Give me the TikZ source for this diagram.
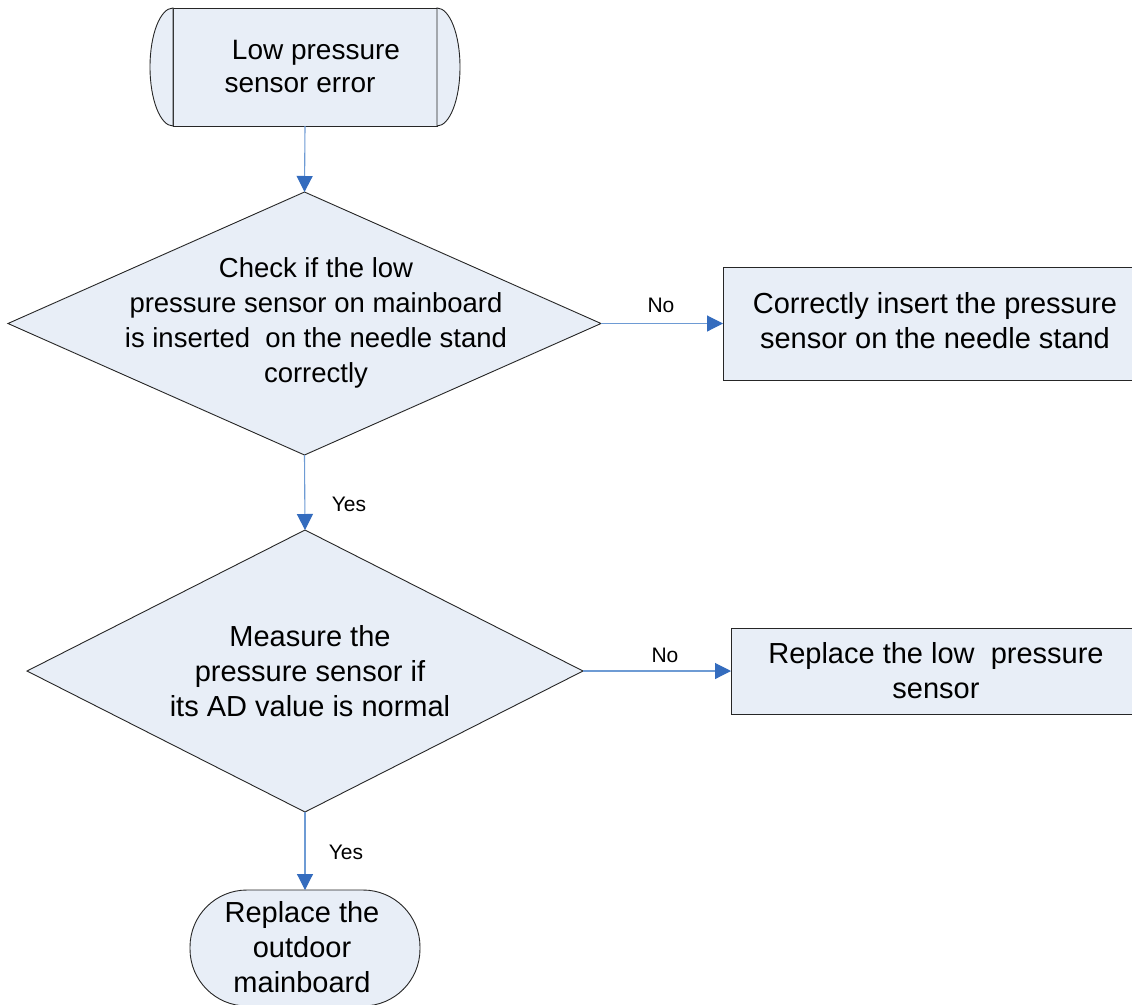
\documentclass[tikz,border=0pt]{standalone}
\usepackage{fontspec}
\setmainfont{Liberation Sans}
\usetikzlibrary{shapes.geometric,arrows.meta}
\definecolor{boxfill}{RGB}{232,238,247}
\definecolor{linecol}{RGB}{110,155,212}
\definecolor{arrowcol}{RGB}{52,108,190}
\tikzset{
  shapeline/.style={draw=black!85, line width=0.9pt, fill=boxfill},
  txt/.style={font=\fontsize{29}{35}\selectfont, align=center, inner sep=0pt},
  lbl/.style={font=\fontsize{21}{24}\selectfont, inner sep=0pt},
  flow/.style={draw=linecol, line width=1.1pt, -{Triangle[length=16pt,width=16pt,color=arrowcol]}},
  decbox/.style={shape=diamond, shapeline, inner sep=0pt, outer sep=0pt},
  procbox/.style={shape=rectangle, shapeline, inner sep=0pt, outer sep=0pt}
}
\begin{document}
\begin{tikzpicture}[x=1pt,y=-1pt]
\useasboundingbox (0,0) rectangle (1132,1004);
\clip (0,0) rectangle (1132,1004);
\fill[white] (0,0) rectangle (1132,1004);

% start terminator
\node[procbox, minimum width=264pt, minimum height=118pt] (start) at (305,67) {};
\draw[shapeline] (start.north west) arc[start angle=90, end angle=270, x radius=23pt, y radius=59pt] -- cycle;
\draw[shapeline] (start.north east) arc[start angle=90, end angle=-90, x radius=23pt, y radius=59pt] -- cycle;
\node[txt, font=\fontsize{28}{33}\selectfont] (starttxt) at (306,67) {\hspace*{20pt}Low pressure\\sensor error\hspace*{12pt}};

% decision 1
\node[decbox, minimum width=593pt, minimum height=263pt, aspect=2.255] (d1) at (304.5,323.5) {};
\node[txt, font=\fontsize{27.5}{35}\selectfont] (d1txt) at (316,323) {Check if the low\\pressure sensor on mainboard\\is inserted\ \ on the needle stand\\correctly};

% box 1
\node[procbox, minimum width=424pt, minimum height=113pt] (b1) at (935,323.5) {};
\node[txt] (b1txt) at (935,320.5) {Correctly insert the pressure\\sensor on the needle stand};

% decision 2
\node[decbox, minimum width=556pt, minimum height=282pt, aspect=1.97] (d2) at (305,671) {};
\node[txt] (d2txt) at (310,671) {Measure the\\pressure sensor if\\its AD value is normal};

% box 2
\node[procbox, minimum width=410pt, minimum height=86pt, txt] (b2) at (936,671) {Replace the low\ \ pressure\\sensor};

% end terminator
\node[procbox, rounded corners=57pt, minimum width=230pt, minimum height=116pt] (stop) at (305,948) {};
\node[txt] (stoptxt) at (302,947) {Replace the\\outdoor\\mainboard};

% connectors
\draw[flow] (start.south) -- (d1.north);
\draw[flow] (d1.east) -- (b1.west);
\draw[flow] (d1.south) -- (d2.north);
\draw[flow] (d2.east) -- (b2.west);
\draw[flow] (d2.south) -- (stop.north);

% labels
\node[lbl] (no1) at (661,305) {No};
\node[lbl] (yes1) at (349,504) {Yes};
\node[lbl] (no2) at (665,655) {No};
\node[lbl] (yes2) at (346,852) {Yes};
\end{tikzpicture}
\end{document}
